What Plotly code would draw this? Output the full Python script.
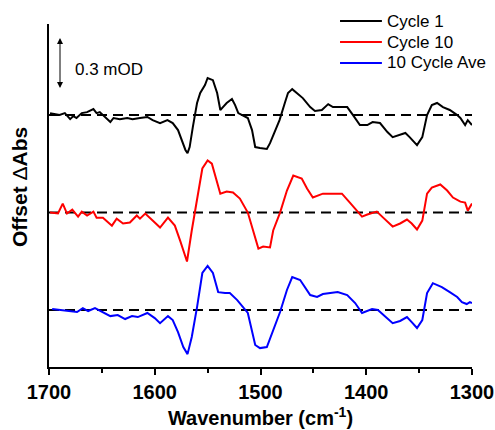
import plotly.graph_objects as go

# ---------------- data ----------------
wn_c1 = [1699, 1690, 1685, 1680, 1677, 1674, 1669, 1664, 1658, 1655, 1652, 1645, 1642, 1639,
         1633, 1626, 1621, 1614, 1607, 1602, 1595, 1588, 1583, 1578, 1574, 1571, 1569, 1567,
         1564, 1560, 1557, 1552.5, 1550, 1545, 1541, 1538, 1535.5, 1532, 1527, 1524, 1521,
         1517, 1512, 1508, 1505, 1500.5, 1494, 1491, 1486, 1482, 1477, 1474, 1470, 1465.5,
         1460, 1453, 1448.5, 1442, 1436, 1431.5, 1425, 1418, 1412.5, 1406, 1399, 1394, 1387,
         1380, 1375, 1368, 1363, 1359, 1352, 1347, 1342.5, 1338, 1333, 1327.5, 1321, 1314,
         1311, 1306.5, 1304, 1300]
abs_c1 = [0.010, 0.000, 0.010, -0.021, -0.005, -0.015, 0.010, 0.015, 0.031, 0.010, 0.015, -0.021,
          -0.036, -0.015, -0.021, -0.015, -0.021, -0.015, -0.010, -0.026, -0.041, -0.026, -0.041,
          -0.077, -0.138, -0.179, -0.195, -0.164, -0.062, 0.062, 0.113, 0.154, 0.190, 0.179,
          0.113, 0.026, 0.041, 0.062, 0.082, 0.051, 0.010, 0.000, -0.015, -0.077, -0.164, -0.169,
          -0.174, -0.144, -0.077, -0.026, 0.062, 0.113, 0.133, 0.113, 0.087, 0.041, 0.021, 0.026,
          0.056, 0.041, 0.041, 0.041, 0.000, -0.051, -0.051, -0.036, -0.041, -0.087, -0.113,
          -0.103, -0.092, -0.113, -0.154, -0.113, 0.000, 0.051, 0.062, 0.041, 0.026, 0.000,
          -0.015, -0.051, -0.026, -0.051]

wn_c10 = [1699, 1691.5, 1687, 1683, 1678, 1672.5, 1669, 1664, 1658, 1655, 1649, 1640.5, 1636,
          1630, 1623.5, 1617, 1614, 1609, 1602, 1595, 1587.5, 1581, 1576, 1572, 1569.5, 1565,
          1560, 1555, 1550, 1546, 1538, 1532, 1526, 1519.5, 1512, 1507, 1502, 1497.5, 1491,
          1488, 1481.5, 1475, 1469, 1461, 1456, 1450.5, 1441, 1428, 1423, 1415.5, 1409, 1404,
          1399, 1390, 1384, 1375, 1368, 1361.5, 1357, 1352, 1347, 1342.5, 1338, 1330, 1323.5,
          1318, 1311, 1306.5, 1304, 1300]
abs_c10 = [0.000, -0.005, 0.046, -0.005, 0.015, -0.021, 0.005, -0.015, 0.005, -0.026, -0.026,
           -0.067, -0.031, -0.056, -0.051, -0.015, -0.031, -0.005, -0.041, -0.077, -0.026, -0.067,
           -0.144, -0.210, -0.251, -0.092, 0.077, 0.226, 0.267, 0.251, 0.097, 0.108, 0.103, 0.072,
           0.000, -0.092, -0.185, -0.174, -0.179, -0.092, 0.000, 0.113, 0.190, 0.174, 0.123, 0.077,
           0.097, 0.097, 0.097, 0.051, 0.010, -0.021, -0.010, 0.005, -0.026, -0.072, -0.056,
           -0.036, -0.056, -0.087, -0.041, 0.097, 0.128, 0.144, 0.113, 0.077, 0.056, 0.051,
           0.010, 0.046]

wn_ave = [1697, 1687, 1680, 1673.5, 1668, 1663, 1656.5, 1649, 1642, 1635, 1628, 1621.5, 1616,
          1607, 1600, 1595, 1587.5, 1583, 1578, 1573, 1569, 1565, 1560, 1555, 1550, 1545, 1540,
          1533.5, 1529, 1522, 1516.5, 1512, 1505, 1500.5, 1494, 1488, 1481.5, 1475, 1470, 1462.5,
          1453, 1446.5, 1441, 1434, 1427, 1418, 1410.5, 1404, 1394.5, 1389, 1382, 1375, 1368,
          1361.5, 1357, 1352, 1347, 1342.5, 1337, 1328.5, 1321, 1314, 1309.5, 1305, 1302, 1300]
abs_ave = [0.005, 0.000, -0.005, -0.010, 0.010, -0.005, 0.010, -0.010, -0.031, -0.026, -0.046,
           -0.031, -0.036, -0.015, -0.041, -0.067, -0.031, -0.051, -0.113, -0.190, -0.226, -0.138,
           0.015, 0.190, 0.226, 0.190, 0.092, 0.087, 0.087, 0.051, 0.015, -0.015, -0.179, -0.195,
           -0.190, -0.103, -0.010, 0.103, 0.169, 0.154, 0.077, 0.067, 0.082, 0.087, 0.092, 0.077,
           0.036, -0.015, 0.005, 0.000, -0.036, -0.067, -0.056, -0.036, -0.062, -0.092, -0.051,
           0.087, 0.138, 0.118, 0.092, 0.067, 0.041, 0.031, 0.041, 0.036]

series_names = ["Cycle 1", "Cycle 10", "10 Cycle Ave"]
offsets = [1.0, 0.5, 0.0]           # vertical offsets (mOD)
scale_bar = 0.3                     # mOD
x_ticks = [1700, 1600, 1500, 1400, 1300]

# ---------------- figure ----------------
colors = ["#000000", "#ff0000", "#0000ff"]
series = [(wn_c1, abs_c1), (wn_c10, abs_c10), (wn_ave, abs_ave)]
x_lo, x_hi = 1700, 1300
font_fam = "Arial, Liberation Sans, sans-serif"

fig = go.Figure()

# dashed baselines
for off in offsets:
    fig.add_trace(go.Scatter(
        x=[x_lo, x_hi], y=[off, off], mode="lines",
        line=dict(color="black", width=2, dash="10px,6px"),
        showlegend=False, hoverinfo="skip"))

for name, (wn, ab), off, col in zip(series_names, series, offsets, colors):
    fig.add_trace(go.Scatter(
        x=wn, y=[v + off for v in ab], mode="lines", name=name,
        line=dict(color=col, width=2), showlegend=False))

# legend drawn as line samples + labels (top right)
leg_rows = [1.0087, 0.9475, 0.8863]
for name, col, ry in zip(series_names, colors, leg_rows):
    fig.add_shape(type="line", xref="paper", yref="paper",
                  x0=0.688, x1=0.787, y0=ry, y1=ry,
                  line=dict(color=col, width=2))
    fig.add_annotation(x=0.794, y=ry, xref="paper", yref="paper",
                       xanchor="left", yanchor="middle", showarrow=False,
                       text=name, font=dict(family=font_fam, size=17, color="black"))

# scale bar (double-headed arrow)
bar_x = 1689.6
bar_top = 1.395
fig.add_annotation(x=bar_x, y=bar_top, ax=bar_x, ay=bar_top - scale_bar,
                   xref="x", yref="y", axref="x", ayref="y",
                   text=" ", showarrow=True, arrowhead=2, arrowsize=1.2,
                   arrowwidth=1, arrowcolor="black", arrowside="end+start")
fig.add_annotation(x=1677.3, y=bar_top - scale_bar / 2 - 0.01, xref="x", yref="y",
                   text=f"{scale_bar} mOD", showarrow=False, xanchor="left",
                   yanchor="middle",
                   font=dict(family=font_fam, size=17, color="black"))

# y-axis title
fig.add_annotation(x=-0.0686, y=0.5248, xref="paper", yref="paper",
                   xanchor="center", yanchor="middle",
                   text="<b>Offset </b>Δ<b>Abs</b>", textangle=-90, showarrow=False,
                   font=dict(family=font_fam, size=21, color="black"))

fig.update_layout(
    width=495, height=430,
    margin=dict(l=49, r=23, t=24, b=63, autoexpand=False),
    paper_bgcolor="white", plot_bgcolor="white",
    font=dict(family=font_fam, color="black"),
    showlegend=False,
    xaxis=dict(range=[x_lo, x_hi], autorange=False, automargin=False,
               tickvals=x_ticks, ticks="outside", ticklen=6, tickwidth=2,
               tickcolor="black", showline=True, linewidth=2, linecolor="black",
               showgrid=False, zeroline=False,
               tickfont=dict(family=font_fam, size=20, color="black", weight="bold"),
               minor=dict(dtick=50, tick0=1300, ticks="outside", ticklen=4,
                          tickwidth=2, tickcolor="black", showgrid=False),
               title=dict(text="<b>Wavenumber (cm<sup>-1</sup>)</b>",
                          font=dict(family=font_fam, size=20, color="black"),
                          standoff=9)),
    yaxis=dict(range=[-0.292, 1.467], autorange=False, showticklabels=False,
               automargin=False,
               ticks="", showline=True, linewidth=2, linecolor="black",
               showgrid=False, zeroline=False),
)

fig.write_html("out.html",
               config={"displayModeBar": False},
               post_script="document.body.style.margin='0';")
